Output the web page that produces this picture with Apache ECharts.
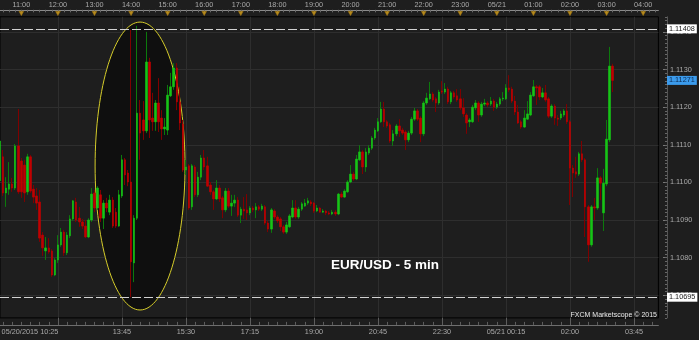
<!DOCTYPE html>
<html><head><meta charset="utf-8">
<script src="https://cdn.jsdelivr.net/npm/echarts@6/dist/echarts.min.js"></script>
<style>html,body{margin:0;padding:0;background:#1e1e1e;}#c{width:699px;height:340px;}</style>
</head><body><div id="c"></div>
<script>
// ---------- data ----------
const startTime = '10:25';
const stepMinutes = 5;
const slotCount = 217;

const opens = [
1.11004,1.11068,1.10972,1.10982,1.10996,1.10985,1.11097,1.11057,1.11046,1.10975,
1.11068,1.10982,1.10964,1.10948,1.10860,1.10818,1.10826,1.10818,1.10754,1.10794,
1.10834,1.10868,1.10813,1.10858,1.10903,1.10948,1.10905,1.10895,1.10884,1.10855,
1.10900,1.10972,1.10932,1.10967,1.10905,1.10945,1.10921,1.10953,1.10921,1.10884,
1.10964,1.11060,1.11025,1.11001,1.10786,1.10905,1.11184,1.11166,1.11137,1.11320,
1.11171,1.11161,1.11211,1.11171,1.11142,1.11139,1.11230,1.11254,1.11304,1.11214,
1.11155,1.11033,1.11044,1.10935,1.11041,1.10967,1.11014,1.11065,1.11044,1.10993,
1.10975,1.10956,1.10985,1.10959,1.10927,1.10977,1.10937,1.10945,1.10953,1.10913,
1.10929,1.10927,1.10919,1.10932,1.10927,1.10935,1.10929,1.10935,1.10892,1.10876,
1.10924,1.10908,1.10903,1.10882,1.10868,1.10882,1.10908,1.10932,1.10908,1.10929,
1.10937,1.10945,1.10948,1.10945,1.10924,1.10932,1.10921,1.10924,1.10919,1.10916,
1.10921,1.10916,1.10969,1.10961,1.10975,1.11001,1.11022,1.11009,1.11060,1.11081,
1.11041,1.11078,1.11091,1.11118,1.11137,1.11161,1.11195,1.11161,1.11153,1.11110,
1.11129,1.11150,1.11139,1.11134,1.11113,1.11131,1.11168,1.11190,1.11171,1.11129,
1.11211,1.11222,1.11235,1.11222,1.11211,1.11243,1.11240,1.11248,1.11214,1.11238,
1.11230,1.11222,1.11198,1.11179,1.11161,1.11161,1.11198,1.11211,1.11179,1.11208,
1.11211,1.11208,1.11216,1.11200,1.11208,1.11222,1.11222,1.11251,1.11248,1.11216,
1.11187,1.11161,1.11147,1.11168,1.11179,1.11230,1.11254,1.11254,1.11227,1.11238,
1.11222,1.11176,1.11203,1.11171,1.11171,1.11179,1.11190,1.11161,1.11038,1.11028,
1.11022,1.11076,1.11060,1.10935,1.10834,1.10935,1.10932,1.11012,1.10919,1.10996,
1.11113,1.11309
];
const closes = [
1.11110,1.10972,1.10985,1.10996,1.10985,1.11097,1.10975,1.10975,1.10972,1.11068,
1.10977,1.10961,1.10945,1.10852,1.10826,1.10826,1.10815,1.10754,1.10794,1.10834,
1.10868,1.10813,1.10860,1.10903,1.10951,1.10900,1.10895,1.10884,1.10855,1.10900,
1.10969,1.10932,1.10985,1.10905,1.10945,1.10932,1.10953,1.10884,1.10884,1.10967,
1.11060,1.11020,1.11001,1.10789,1.10905,1.11184,1.11131,1.11137,1.11320,1.11166,
1.11161,1.11211,1.11161,1.11142,1.11147,1.11232,1.11254,1.11304,1.11214,1.11158,
1.11033,1.11041,1.10932,1.11044,1.10967,1.11014,1.11065,1.11041,1.10990,1.10975,
1.10956,1.10985,1.10956,1.10927,1.10977,1.10937,1.10945,1.10953,1.10913,1.10929,
1.10924,1.10919,1.10932,1.10927,1.10935,1.10929,1.10937,1.10892,1.10876,1.10927,
1.10908,1.10898,1.10882,1.10868,1.10887,1.10911,1.10932,1.10908,1.10929,1.10943,
1.10945,1.10951,1.10943,1.10924,1.10932,1.10921,1.10924,1.10919,1.10916,1.10921,
1.10916,1.10969,1.10961,1.10977,1.11001,1.11022,1.11009,1.11062,1.11081,1.11041,
1.11081,1.11091,1.11118,1.11139,1.11161,1.11195,1.11161,1.11150,1.11110,1.11129,
1.11150,1.11137,1.11131,1.11113,1.11131,1.11168,1.11190,1.11168,1.11129,1.11211,
1.11224,1.11235,1.11219,1.11211,1.11240,1.11240,1.11248,1.11214,1.11238,1.11227,
1.11219,1.11198,1.11182,1.11158,1.11166,1.11200,1.11211,1.11179,1.11208,1.11211,
1.11206,1.11216,1.11200,1.11208,1.11222,1.11224,1.11251,1.11246,1.11216,1.11187,
1.11158,1.11147,1.11171,1.11182,1.11232,1.11254,1.11251,1.11227,1.11238,1.11219,
1.11176,1.11203,1.11171,1.11168,1.11182,1.11190,1.11161,1.11038,1.11025,1.11022,
1.11076,1.11060,1.10935,1.10834,1.10935,1.10932,1.11012,1.10998,1.10998,1.11115,
1.11309,1.11271
];
const lows = [
1.10996,1.10964,1.10935,1.10967,1.10975,1.10980,1.10969,1.10959,1.10948,1.10967,
1.10972,1.10945,1.10927,1.10842,1.10805,1.10794,1.10810,1.10749,1.10751,1.10786,
1.10829,1.10805,1.10807,1.10852,1.10898,1.10895,1.10882,1.10876,1.10852,1.10852,
1.10895,1.10921,1.10927,1.10895,1.10876,1.10921,1.10913,1.10879,1.10879,1.10882,
1.10959,1.10993,1.10990,1.10695,1.10735,1.10900,1.11060,1.11113,1.11131,1.11118,
1.11137,1.11137,1.11134,1.11113,1.11126,1.11126,1.11227,1.11246,1.11192,1.11139,
1.11028,1.11020,1.10927,1.10927,1.10961,1.10961,1.11006,1.11033,1.10988,1.10967,
1.10927,1.10953,1.10948,1.10905,1.10921,1.10932,1.10911,1.10935,1.10908,1.10892,
1.10903,1.10900,1.10913,1.10921,1.10905,1.10924,1.10924,1.10887,1.10868,1.10866,
1.10903,1.10892,1.10871,1.10863,1.10863,1.10879,1.10905,1.10903,1.10903,1.10924,
1.10935,1.10940,1.10937,1.10919,1.10921,1.10919,1.10919,1.10913,1.10913,1.10913,
1.10911,1.10913,1.10959,1.10959,1.10972,1.10998,1.11004,1.11006,1.11057,1.11022,
1.11028,1.11073,1.11086,1.11113,1.11134,1.11158,1.11147,1.11145,1.11105,1.11097,
1.11123,1.11121,1.11126,1.11086,1.11107,1.11126,1.11163,1.11163,1.11107,1.11123,
1.11206,1.11219,1.11214,1.11187,1.11206,1.11235,1.11235,1.11208,1.11208,1.11222,
1.11214,1.11192,1.11174,1.11129,1.11147,1.11158,1.11192,1.11161,1.11174,1.11203,
1.11200,1.11203,1.11190,1.11195,1.11203,1.11216,1.11219,1.11240,1.11211,1.11179,
1.11155,1.11142,1.11145,1.11166,1.11176,1.11227,1.11206,1.11219,1.11224,1.11214,
1.11171,1.11171,1.11153,1.11150,1.11166,1.11174,1.11155,1.10940,1.10961,1.11012,
1.11017,1.11054,1.10855,1.10789,1.10829,1.10900,1.10927,1.10953,1.10871,1.10990,
1.11107,1.11240
];
const highs = [
1.11115,1.11086,1.11014,1.11054,1.11012,1.11102,1.11195,1.11065,1.11060,1.11076,
1.11073,1.10993,1.10985,1.10980,1.10868,1.10855,1.10852,1.10823,1.10799,1.10860,
1.10879,1.10874,1.10868,1.10913,1.10953,1.10959,1.10935,1.10903,1.10900,1.10905,
1.10985,1.10980,1.10990,1.10980,1.10953,1.10959,1.10967,1.10961,1.10932,1.10980,
1.11073,1.11065,1.11033,1.11405,1.10913,1.11416,1.11219,1.11216,1.11400,1.11331,
1.11238,1.11219,1.11277,1.11192,1.11171,1.11259,1.11291,1.11317,1.11317,1.11254,
1.11166,1.11060,1.11049,1.11049,1.11046,1.11028,1.11073,1.11086,1.11068,1.11001,
1.10980,1.11006,1.10993,1.10964,1.10985,1.10985,1.10967,1.10967,1.10961,1.10935,
1.10961,1.10969,1.10937,1.10937,1.10945,1.10940,1.10943,1.10940,1.10898,1.10932,
1.10929,1.10913,1.10908,1.10887,1.10895,1.10916,1.10953,1.10953,1.10935,1.10948,
1.10956,1.10959,1.10953,1.10948,1.10940,1.10935,1.10929,1.10927,1.10924,1.10927,
1.10927,1.10972,1.10975,1.10982,1.11006,1.11046,1.11028,1.11073,1.11099,1.11086,
1.11091,1.11099,1.11123,1.11145,1.11171,1.11214,1.11214,1.11166,1.11158,1.11139,
1.11155,1.11168,1.11145,1.11139,1.11137,1.11174,1.11198,1.11195,1.11176,1.11216,
1.11238,1.11267,1.11240,1.11227,1.11246,1.11269,1.11264,1.11254,1.11243,1.11243,
1.11248,1.11248,1.11224,1.11184,1.11171,1.11206,1.11219,1.11216,1.11214,1.11222,
1.11216,1.11227,1.11222,1.11214,1.11227,1.11240,1.11261,1.11285,1.11254,1.11230,
1.11206,1.11166,1.11192,1.11216,1.11240,1.11272,1.11259,1.11259,1.11251,1.11259,
1.11227,1.11208,1.11208,1.11179,1.11190,1.11195,1.11208,1.11166,1.11046,1.11068,
1.11081,1.11110,1.11065,1.10940,1.10940,1.10959,1.11038,1.11017,1.11036,1.11166,
1.11360,1.11315
];

const topTickTimes  = ['11:00','12:00','13:00','14:00','15:00','16:00','17:00','18:00','19:00','20:00','21:00','22:00','23:00','00:00','01:00','02:00','03:00','04:00'];
const topTickLabels = ['11:00','12:00','13:00','14:00','15:00','16:00','17:00','18:00','19:00','20:00','21:00','22:00','23:00','05/21','01:00','02:00','03:00','04:00'];
const bottomTickTimes  = ['10:25','13:45','15:30','17:15','19:00','20:45','22:30','00:15','02:00','03:45'];
const bottomTickLabels = ['05/20/2015 10:25','13:45','15:30','17:15','19:00','20:45','22:30','05/21 00:15','02:00','03:45'];
const yTickLabels = ['1.1070','1.1080','1.1090','1.1100','1.1110','1.1120','1.1130','1.1140'];
const yRange = [1.1064, 1.1144];
const levelLines = [1.11408, 1.10695];
const ellipseSpan = [31.2, 60.7];
const ellipsePrices = [1.10661, 1.11426];
const titleText = 'EUR/USD - 5 min';
const creditText = 'FXCM Marketscope \u00A9 2015';

// ---------- build ----------
const cats = [];
const [h0, m0] = startTime.split(':').map(Number);
for (let i = 0; i < slotCount; i++) {
  const mm = (h0 * 60 + m0 + i * stepMinutes) % 1440;
  cats.push(String(Math.floor(mm / 60)).padStart(2, '0') + ':' + String(mm % 60).padStart(2, '0'));
}
const majorEvery = 21;
const majorPhase = cats.indexOf(bottomTickTimes[1]) % majorEvery;
const yMajors = yTickLabels.map(Number);
const yMinors = [];
for (let k = 0; k <= Math.round((yRange[1] - yRange[0]) * 1e4); k++) yMinors.push(Math.round((yRange[0] + k * 0.0001) * 1e4) / 1e4);

const wickData = opens.map((o, i) => [o, closes[i], lows[i], highs[i]]);
const bodyData = opens.map((o, i) => [o, closes[i], Math.min(o, closes[i]), Math.max(o, closes[i])]);
const lastClose = closes[closes.length - 1];

const FONT = 'Liberation Sans';
const labelColor = '#a9a9a9';
const gridColor = '#2e2e2e';
const frameColor = '#6e6e6e';
const G = { left: 0, top: 16.8, width: 658.4, height: 301.1 };

const boxLabel = {
  show: true, position: 'end', distance: 8.6,
  formatter: p => Number(p.value).toFixed(5),
  fontSize: 7.3, fontFamily: FONT, padding: [1, 2, 0, 2], lineHeight: 8, opacity: 1
};

const option = {
  animation: false,
  backgroundColor: '#1e1e1e',
  grid: [
    Object.assign({ show: true, backgroundColor: '#1e1e1e', borderColor: '#000', borderWidth: 1, containLabel: false, outerBoundsMode: 'none' }, G),
    { left: G.left, width: G.width, top: 10, height: 6.8, show: false, containLabel: false, outerBoundsMode: 'none' }
  ],
  xAxis: [
    {
      gridIndex: 0, type: 'category', data: cats, boundaryGap: false, position: 'bottom', offset: 7,
      axisLine: { show: true, lineStyle: { color: frameColor, width: 1 } },
      axisTick: { show: true, inside: true, length: 3, interval: i => i % 3 === 1, lineStyle: { color: '#5e5e5e' } },
      axisLabel: {
        show: true, interval: (i, v) => bottomTickTimes.indexOf(v) >= 0, margin: 4,
        color: labelColor, fontSize: 7.3, fontFamily: FONT,
        formatter: (v, i) => {
          const k = bottomTickTimes.indexOf(v);
          if (k < 0) return '';
          if (i === 0) return '{sp|}{first|' + bottomTickLabels[k] + '}';
          return bottomTickLabels[k];
        },
        rich: {
          sp: { width: 60 },
          first: { width: 60, align: 'left', color: labelColor, fontSize: 7.3, fontFamily: FONT }
        }
      },
      splitLine: { show: true, interval: i => i % majorEvery === majorPhase, lineStyle: { color: gridColor, width: 1 } }
    },
    {
      gridIndex: 0, type: 'category', data: cats, boundaryGap: false, position: 'bottom', offset: 7,
      axisLine: { show: false },
      axisTick: { show: true, inside: true, length: 7, interval: i => i % majorEvery === majorPhase, lineStyle: { color: '#5e5e5e' } },
      axisLabel: { show: false }, splitLine: { show: false }
    },
    {
      gridIndex: 0, type: 'category', data: cats, boundaryGap: false, position: 'top', offset: 7,
      axisLine: { show: true, lineStyle: { color: '#8a8a8a', width: 1 } },
      axisTick: { show: true, inside: true, length: 2.5, interval: i => i % 2 === 1, lineStyle: { color: '#6a6a6a' } },
      axisLabel: {
        show: true, interval: (i, v) => topTickTimes.indexOf(v) >= 0, margin: 1.5,
        color: labelColor, fontSize: 7.3, fontFamily: FONT,
        formatter: v => { const k = topTickTimes.indexOf(v); return k < 0 ? '' : topTickLabels[k]; }
      },
      splitLine: { show: false }
    },
    { gridIndex: 1, type: 'category', data: cats, boundaryGap: false, show: false }
  ],
  yAxis: [
    {
      gridIndex: 0, type: 'value', position: 'right', offset: 8.6, min: yRange[0], max: yRange[1],
      axisLine: { show: true, lineStyle: { color: '#555', width: 1 } },
      axisTick: { show: true, inside: true, length: 4, customValues: yMajors, lineStyle: { color: '#777' } },
      axisLabel: { show: true, customValues: yMajors, margin: 3, formatter: v => v.toFixed(4), color: labelColor, fontSize: 7.3, fontFamily: FONT },
      splitLine: { show: true, lineStyle: { color: gridColor, width: 1 } }
    },
    {
      gridIndex: 0, type: 'value', position: 'right', offset: 8.6, min: yRange[0], max: yRange[1],
      axisLine: { show: false },
      axisTick: { show: true, inside: true, length: 2, customValues: yMinors, lineStyle: { color: '#666' } },
      axisLabel: { show: false }, splitLine: { show: false }
    },
    { gridIndex: 1, type: 'value', min: 0, max: 1, show: false }
  ],
  series: [
    {
      name: 'wick', type: 'candlestick', xAxisIndex: 0, yAxisIndex: 0, data: wickData,
      barWidth: 1, z: 2, silent: true,
      itemStyle: { color: '#0c7a0c', color0: '#7e0000', borderColor: '#0c7a0c', borderColor0: '#7e0000', borderWidth: 1 },
      markLine: {
        symbol: ['none', 'none'], silent: true, animation: false, precision: 5,
        data: levelLines.map(v => ({
          yAxis: v,
          lineStyle: { type: [9, 3], color: '#d2d2d2', width: 1 },
          label: Object.assign({}, boxLabel, { backgroundColor: '#ffffff', color: '#1a1a1a' })
        })).concat([{
          yAxis: lastClose,
          lineStyle: { color: 'rgba(0,0,0,0)', width: 1, type: 'solid' },
          label: Object.assign({}, boxLabel, { backgroundColor: '#3b9bec', color: '#0b2c55' })
        }])
      }
    },
    {
      name: 'body', type: 'candlestick', xAxisIndex: 0, yAxisIndex: 0, data: bodyData,
      barWidth: 2, z: 3, silent: true,
      itemStyle: { color: '#16c416', color0: '#c00000', borderColor: '#16c416', borderColor0: '#c00000', borderColorDoji: '#16c416', borderWidth: 0.6 }
    },
    {
      name: 'hours', type: 'scatter', xAxisIndex: 3, yAxisIndex: 2, silent: true, z: 4,
      data: topTickTimes.map(t => [cats.indexOf(t), 0.5]),
      symbol: 'triangle', symbolRotate: 180, symbolSize: [5, 4.5],
      itemStyle: { color: '#d9a31a', borderColor: '#9a7010', borderWidth: 0.5 }
    }
  ]
};

const chart = echarts.init(document.getElementById('c'), null, { renderer: 'canvas', width: 699, height: 340 });
chart.setOption(option);

const px0 = chart.convertToPixel({ xAxisIndex: 0 }, cats[0]);
const px1 = chart.convertToPixel({ xAxisIndex: 0 }, cats[1]);
const step = px1 - px0;
const cx = px0 + step * (ellipseSpan[0] + ellipseSpan[1]) / 2;
const rx = step * (ellipseSpan[1] - ellipseSpan[0]) / 2;
const yTop = chart.convertToPixel({ yAxisIndex: 0 }, ellipsePrices[1]);
const yBot = chart.convertToPixel({ yAxisIndex: 0 }, ellipsePrices[0]);

chart.setOption({
  graphic: {
    elements: [
      { type: 'ellipse', z: 1, silent: true,
        shape: { cx: cx, cy: (yTop + yBot) / 2, rx: rx, ry: (yBot - yTop) / 2 },
        style: { fill: '#0f0f0f', stroke: '#d6cd2a', lineWidth: 1 } },
      { type: 'text', z: 10, silent: true, x: 385, y: 265,
        style: { text: titleText, fill: '#ffffff', font: 'bold 13.5px "Liberation Sans"', textAlign: 'center', textVerticalAlign: 'middle' } },
      { type: 'text', z: 10, silent: true, x: 657, y: 315,
        style: { text: creditText, fill: '#e6e6e6', font: '7px "Liberation Sans"', textAlign: 'right', textVerticalAlign: 'middle' } }
    ]
  }
});
</script>
</body></html>
